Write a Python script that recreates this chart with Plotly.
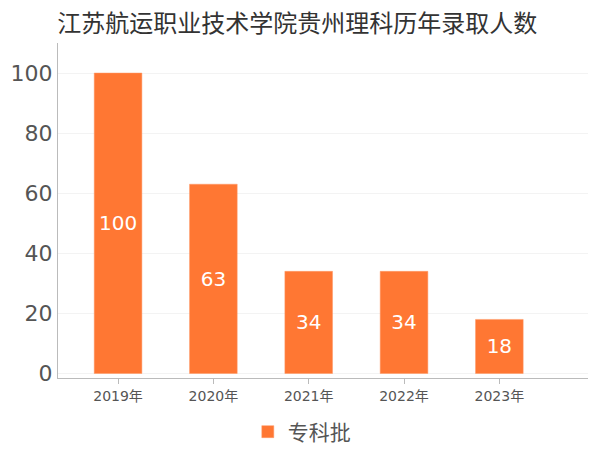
import plotly.graph_objects as go

years = ["2019年", "2020年", "2021年", "2022年", "2023年"]
counts = [100, 63, 34, 34, 18]
series_name = "专科批"
title = "江苏航运职业技术学院贵州理科历年录取人数"

font_family = "DejaVu Sans, Noto Sans CJK SC, sans-serif"

fig = go.Figure()
fig.add_trace(go.Bar(
    x=years,
    y=counts,
    name=series_name,
    width=0.5,
    marker=dict(color="#FF7733", line=dict(color="#FF9966", width=0.5)),
    text=counts,
    textposition="inside",
    insidetextanchor="middle",
    textfont=dict(color="white", size=20, family=font_family),
    showlegend=True,
))

# page body adds an 8px offset, so margins are shifted to compensate
fig.update_layout(
    width=600, height=450,
    margin=dict(l=50, r=20, t=35, b=80, autoexpand=False),
    paper_bgcolor="white", plot_bgcolor="white",
    font=dict(family=font_family, color="#555555"),
    title=dict(text=title, x=0.482, xanchor="center", y=0.965, yanchor="middle",
               font=dict(size=24, color="#333333", family=font_family)),
    showlegend=True,
    legend=dict(orientation="h", x=0.46, xanchor="center", y=-0.1, yanchor="top",
                font=dict(size=21, color="#555555"), itemwidth=30),
    xaxis=dict(
        range=[-0.63, 4.93],
        showline=True, linecolor="#BBBBBB", linewidth=1,
        ticks="outside", tickcolor="#BBBBBB", ticklen=5,
        tickfont=dict(size=14, color="#555555"),
        showgrid=False, automargin=False,
    ),
    yaxis=dict(
        range=[-1.5, 110],
        tickvals=[0, 20, 40, 60, 80, 100],
        showline=True, linecolor="#BBBBBB", linewidth=1,
        tickfont=dict(size=22, color="#555555"),
        gridcolor="#F3F3F3", zeroline=False,
        ticks="", ticklabelstandoff=0, automargin=False,
    ),
)

fig.write_html("out.html")
